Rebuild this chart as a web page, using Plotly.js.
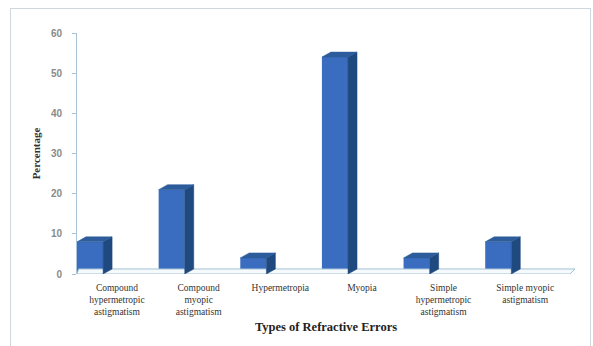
<!DOCTYPE html>
<html>
<head>
<meta charset="utf-8">
<script src="https://cdn.plot.ly/plotly-3.0.1.min.js"></script>
<style>
  html, body { margin: 0; padding: 0; background: #ffffff; }
  #wrap { position: relative; width: 593px; height: 346px; overflow: hidden; }
  #chart { width: 593px; height: 346px; }
  #frame {
    position: absolute; left: 10px; top: 8px; width: 579px; height: 345px;
    border: 1px solid #cfd6de; pointer-events: none;
  }
</style>
</head>
<body>
<div id="wrap">
  <div id="chart"></div>
  <div id="frame"></div>
</div>
<script>
// Refractive error types and their share (%)
const categories = [
  'Compound hypermetropic astigmatism',
  'Compound myopic astigmatism',
  'Hypermetropia',
  'Myopia',
  'Simple hypermetropic astigmatism',
  'Simple myopic astigmatism'
];
const tickLabels = [
  'Compound<br>hypermetropic<br>astigmatism',
  'Compound<br>myopic<br>astigmatism',
  'Hypermetropia',
  'Myopia',
  'Simple<br>hypermetropic<br>astigmatism',
  'Simple myopic<br>astigmatism'
];
const percentages = [8, 21, 4, 54, 4, 8];

// 3-D look: bar width and depth offsets, in axis units
const barW = 0.32;
const depthX = 0.11;
const depthY = 1.25;
const xMin = -0.16;
const xMax = 5.94;

const idx = categories.map((_, i) => i);

// floor slab under the bars
const floorTrace = {
  type: 'scatter', mode: 'lines', fill: 'toself',
  x: [xMin, 5.88, xMax, xMin + 0.02, xMin],
  y: [0, 0, depthY, depthY, 0],
  line: { color: '#9fc2d6', width: 1 },
  fillcolor: '#f7fafc',
  hoverinfo: 'skip', showlegend: false
};

// front faces
const frontTrace = {
  type: 'bar', x: idx, y: percentages, width: barW,
  marker: { color: '#3a6dc0', line: { width: 0 } },
  hoverinfo: 'skip', showlegend: false
};

// right-hand side faces
const sx = [], sy = [];
idx.forEach((i, k) => {
  const r = i + barW / 2, v = percentages[k];
  sx.push(r, r + depthX, r + depthX, r, r, null);
  sy.push(0, depthY, v + depthY, v, 0, null);
});
const sideTrace = {
  type: 'scatter', mode: 'lines', fill: 'toself', x: sx, y: sy,
  line: { color: '#1d4577', width: 0.5 }, fillcolor: '#1f4a80',
  hoverinfo: 'skip', showlegend: false
};

// top faces
const tx = [], ty = [];
idx.forEach((i, k) => {
  const l = i - barW / 2, r = i + barW / 2, v = percentages[k];
  tx.push(l, l + depthX, r + depthX, r, l, null);
  ty.push(v, v + depthY, v + depthY, v, v, null);
});
const topTrace = {
  type: 'scatter', mode: 'lines', fill: 'toself', x: tx, y: ty,
  line: { color: '#2b5a98', width: 0.5 }, fillcolor: '#2d5c9c',
  hoverinfo: 'skip', showlegend: false
};

const layout = {
  width: 593, height: 346,
  margin: { l: 77, r: 18, t: 33, b: 72 },
  paper_bgcolor: '#ffffff', plot_bgcolor: 'rgba(0,0,0,0)',
  showlegend: false,
  xaxis: {
    range: [xMin, xMax],
    tickmode: 'array',
    tickvals: idx.map(i => i + 0.33),
    ticktext: tickLabels,
    ticks: '', showline: false, showgrid: false, zeroline: false,
    ticklabelstandoff: 6,
    tickfont: { family: 'Liberation Serif, serif', size: 9.5, color: '#333333' },
    title: {
      text: '<b>Types of Refractive Errors</b>',
      font: { family: 'Liberation Serif, serif', size: 12.5, color: '#222222' },
      standoff: 6
    },
    fixedrange: true
  },
  yaxis: {
    range: [0, 60], dtick: 10,
    showline: true, linecolor: '#a9c4d8', linewidth: 1,
    ticks: 'outside', ticklen: 4, tickcolor: '#a9c4d8',
    ticklabelstandoff: 8,
    showgrid: false, zeroline: false,
    tickfont: { family: 'Liberation Sans, sans-serif', size: 10, color: '#8a8a8a', weight: 'bold' },
    title: {
      text: '<b>Percentage</b>',
      font: { family: 'Liberation Serif, serif', size: 11, color: '#333333' },
      standoff: 8
    },
    fixedrange: true
  }
};

Plotly.newPlot('chart', [floorTrace, frontTrace, sideTrace, topTrace], layout, { displayModeBar: false, staticPlot: true });
</script>
</body>
</html>
